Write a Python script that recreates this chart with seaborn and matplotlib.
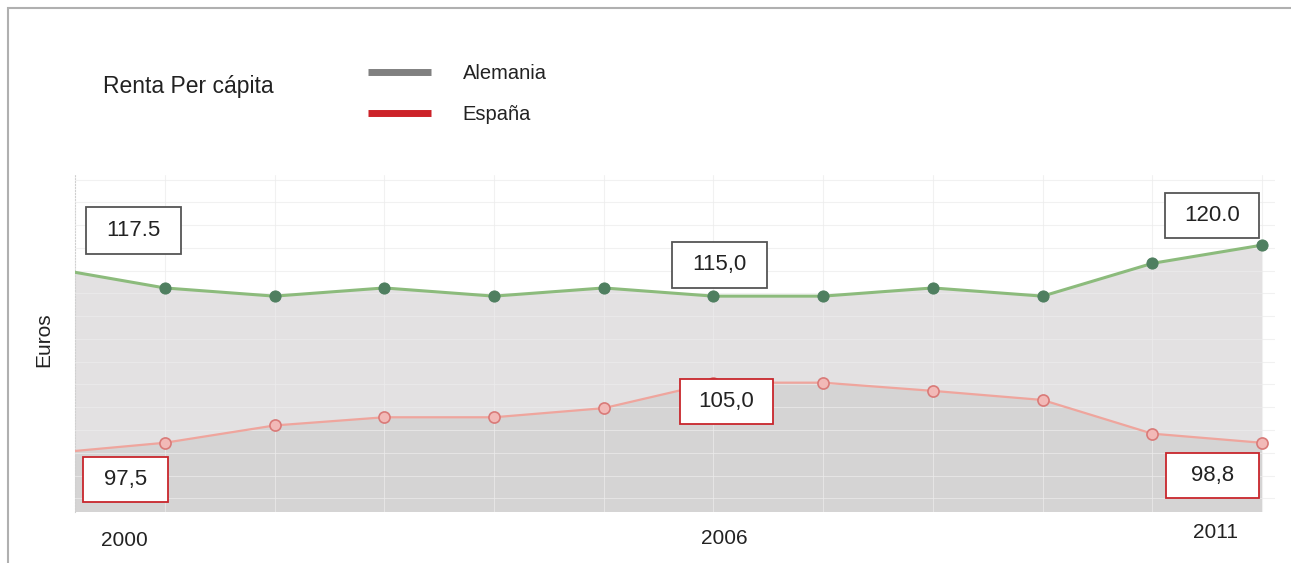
import matplotlib
matplotlib.use("Agg")
import numpy as np
import pandas as pd
import seaborn as sns
import matplotlib.pyplot as plt
from matplotlib.patches import Rectangle
from matplotlib.lines import Line2D

# ---------------- data ----------------
years = list(range(2000, 2012))
alemania = [117.7, 115.6, 114.7, 115.6, 114.7, 115.6, 114.7, 114.7, 115.6, 114.7, 118.3, 120.3]
espana = [97.5, 98.6, 100.5, 101.4, 101.4, 102.4, 105.2, 105.2, 104.3, 103.3, 99.6, 98.6]
series_names = ["Alemania", "España"]
box_labels = ["117.5", "115,0", "120.0", "97,5", "105,0", "98,8"]
year_labels = ["2000", "2006", "2011"]
title_text = "Renta Per cápita"
ylabel_text = "Euros"

df = pd.DataFrame({"year": years, "Alemania": alemania, "España": espana})

# ---------------- style ----------------
sns.set_theme(style="white")
plt.rcParams["font.family"] = ["Liberation Sans", "DejaVu Sans"]

W, H = 1291, 563
fig = plt.figure(figsize=(W / 100, H / 100), dpi=100)

def fx(px):
    return px / W

def fy(py):
    return 1 - py / H

ax = fig.add_axes([fx(75), fy(512), fx(1275) - fx(75), fy(175) - fy(512)])

ger_fill = "#e3e1e2"
spa_fill = "#d5d4d4"
ger_line = "#8cbb7c"
ger_mark = "#4f7f60"
spa_line = "#efa59d"
spa_mark_face = "#f2b9b7"
spa_mark_edge = "#d97a78"

ax.fill_between(df["year"], 0, df["Alemania"], color=ger_fill, zorder=1, linewidth=0)
ax.fill_between(df["year"], 0, df["España"], color=spa_fill, zorder=1.1, linewidth=0)

sns.lineplot(data=df, x="year", y="Alemania", ax=ax, color=ger_line, linewidth=2.2,
             marker="o", markersize=8, markerfacecolor=ger_mark, markeredgecolor=ger_mark,
             zorder=4)
sns.lineplot(data=df, x="year", y="España", ax=ax, color=spa_line, linewidth=1.6,
             marker="o", markersize=8, markerfacecolor=spa_mark_face,
             markeredgecolor=spa_mark_edge, markeredgewidth=1.2, zorder=4)

ax.set_xlim(2000 + 20 / 110, 2011 + 13 / 110)
ax.set_ylim(91.0, 128.0)

# faint grid
ax.set_xticks(years[1:])
ax.set_yticks(np.arange(92.5, 128.0, 2.5))
ax.grid(True, color="#ececec", linewidth=0.8, alpha=0.7, zorder=2)
ax.set_axisbelow(False)
ax.tick_params(labelbottom=False, labelleft=False, length=0)
ax.set_xlabel("")
ax.set_ylabel("")
for s in ["top", "right", "bottom"]:
    ax.spines[s].set_visible(False)
ax.spines["left"].set_color("#d0d0d0")
ax.spines["left"].set_linestyle(":")
ax.spines["left"].set_linewidth(0.8)
ax.patch.set_facecolor("white")

# ---------------- annotation boxes ----------------
boxes = [
    (86, 207, 181, 254, "#555555"),
    (672, 242, 767, 288, "#555555"),
    (1165, 193, 1259, 238, "#555555"),
    (83, 457, 168, 502, "#c8262c"),
    (680, 379, 773, 424, "#c8262c"),
    (1166, 453, 1259, 498, "#c8262c"),
]
for (x0, y0, x1, y1, ec), txt in zip(boxes, box_labels):
    fig.add_artist(Rectangle((fx(x0), fy(y1)), fx(x1) - fx(x0), fy(y0) - fy(y1),
                             transform=fig.transFigure, facecolor="white",
                             edgecolor=ec, linewidth=1.3, zorder=10))
    fig.text(fx((x0 + x1) / 2), fy((y0 + y1) / 2), txt, ha="center", va="center",
             fontsize=16, color="#222222", zorder=11)

# year labels
for txt, (px, py) in zip(year_labels, [(124, 540), (724, 538), (1215, 533)]):
    fig.text(fx(px), fy(py), txt, ha="center", va="center", fontsize=15, color="#222222")

# title and axis label
fig.text(fx(103), fy(87), title_text, ha="left", va="center", fontsize=16.5, color="#222222")
fig.text(fx(44), fy(340), ylabel_text, ha="center", va="center", rotation=90,
         fontsize=15, color="#222222")

# legend
handles = [Line2D([], [], color="#808080", linewidth=5, solid_capstyle="butt"),
           Line2D([], [], color="#cc2229", linewidth=5, solid_capstyle="butt")]
fig.legend(handles, series_names, loc="center left",
           bbox_to_anchor=(fx(350), fy(94)), frameon=False, fontsize=14.5,
           handlelength=3.1, handletextpad=1.6, labelspacing=1.05,
           labelcolor="#222222")

# outer frame (top & left edges visible)
fig.add_artist(Rectangle((fx(8), -0.1), 1.2, fy(8) + 0.1, transform=fig.transFigure,
                         facecolor="none", edgecolor="#b0b0b0", linewidth=1.5, zorder=0))

fig.savefig("out.png", dpi=100)
